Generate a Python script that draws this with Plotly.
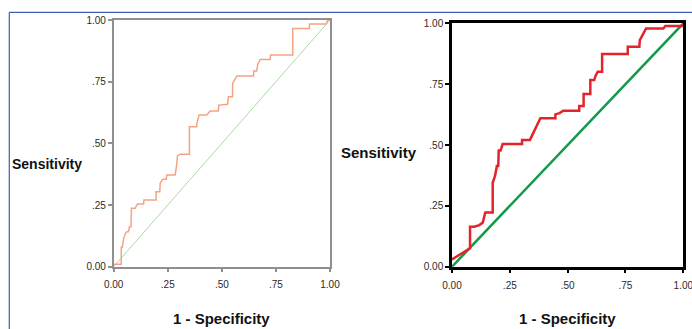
import plotly.graph_objects as go

# Left ROC curve (1 - specificity, sensitivity)
left_fpr = [0.0, 0.035, 0.035, 0.04, 0.045, 0.053, 0.061, 0.068, 0.073, 0.08, 0.082, 0.1, 0.104, 0.11,
            0.138, 0.14, 0.196, 0.196, 0.213, 0.215, 0.227, 0.243, 0.245, 0.284, 0.29, 0.295, 0.307,
            0.35, 0.35, 0.384, 0.384, 0.392, 0.395, 0.43, 0.446, 0.484, 0.486, 0.527, 0.53, 0.549,
            0.55, 0.569, 0.646, 0.648, 0.661, 0.666, 0.677, 0.723, 0.725, 0.828, 0.828, 0.905, 0.905,
            0.982, 0.99, 1.0]
left_tpr = [0.01, 0.01, 0.079, 0.079, 0.11, 0.133, 0.142, 0.142, 0.162, 0.162, 0.237, 0.237, 0.246, 0.254,
            0.254, 0.27, 0.27, 0.304, 0.304, 0.338, 0.354, 0.354, 0.372, 0.372, 0.405, 0.449, 0.456,
            0.456, 0.567, 0.567, 0.581, 0.6, 0.615, 0.615, 0.631, 0.631, 0.655, 0.658, 0.689, 0.689,
            0.743, 0.773, 0.773, 0.793, 0.793, 0.82, 0.84, 0.84, 0.858, 0.858, 0.966, 0.966, 0.984,
            0.984, 1.0, 1.0]

# Right ROC curve
right_fpr = [0.0, 0.078, 0.078, 0.096, 0.118, 0.133, 0.144, 0.176, 0.176, 0.186, 0.194, 0.2, 0.202,
             0.21, 0.219, 0.303, 0.303, 0.337, 0.382, 0.447, 0.447, 0.465, 0.481, 0.55, 0.55, 0.569,
             0.569, 0.598, 0.598, 0.615, 0.62, 0.63, 0.649, 0.649, 0.76, 0.76, 0.81, 0.812, 0.839,
             0.914, 0.922, 0.998, 1.0]
right_tpr = [0.03, 0.076, 0.164, 0.164, 0.171, 0.181, 0.223, 0.223, 0.345, 0.373, 0.414, 0.414, 0.477,
             0.477, 0.504, 0.504, 0.521, 0.521, 0.61, 0.61, 0.626, 0.631, 0.641, 0.641, 0.66, 0.66,
             0.71, 0.71, 0.767, 0.767, 0.783, 0.801, 0.801, 0.874, 0.874, 0.904, 0.904, 0.931, 0.979,
             0.979, 0.989, 0.989, 1.0]

ref_line = [0.0, 1.0]
tick_vals = [0.0, 0.25, 0.5, 0.75, 1.0]
tick_text = ["0.00", ".25", ".50", ".75", "1.00"]
x_title = "1 - Specificity"
y_title = "Sensitivity"

W, H = 692, 329

fig = go.Figure()
fig.add_trace(go.Scatter(x=ref_line, y=ref_line, mode="lines", xaxis="x", yaxis="y",
                         line=dict(color="#a9d9a4", width=1), showlegend=False))
fig.add_trace(go.Scatter(x=left_fpr, y=left_tpr, mode="lines", xaxis="x", yaxis="y",
                         line=dict(color="#f5a284", width=1.5), showlegend=False))
fig.add_trace(go.Scatter(x=ref_line, y=ref_line, mode="lines", xaxis="x2", yaxis="y2",
                         line=dict(color="#109a4a", width=2.5), showlegend=False))
fig.add_trace(go.Scatter(x=right_fpr, y=right_tpr, mode="lines", xaxis="x2", yaxis="y2",
                         line=dict(color="#e4232a", width=2.5), showlegend=False))

tick_font = dict(family="Liberation Sans, Arial, sans-serif", size=10, color="#2a2a2a")

def ax(domain, anchor, color, lw, standoff=None):
    d = dict(domain=domain, anchor=anchor, range=[0, 1], tickvals=tick_vals, ticktext=tick_text,
             ticks="outside", ticklen=4, tickcolor=color, tickwidth=lw if lw < 2 else 1.5,
             showline=True, linecolor=color, linewidth=lw, mirror=True, automargin=False,
             ticklabeloverflow="allow",
             showgrid=False, zeroline=False, tickfont=tick_font, fixedrange=True)
    if standoff is not None:
        d["ticklabelstandoff"] = standoff
    return d

lx0, lx1 = 113.7 / W, 330 / W
ly0, ly1 = 1 - 266.7 / H, 1 - 20 / H
rx0, rx1 = 452 / W, 683.3 / W
ry0, ry1 = 1 - 266.7 / H, 1 - 23.3 / H

fig.update_layout(
    width=W, height=H, autosize=False,
    margin=dict(l=0, r=0, t=0, b=0, pad=0, autoexpand=False),
    paper_bgcolor="white", plot_bgcolor="white",
    xaxis=ax([lx0, lx1], "y", "#8f8f8f", 1.5, 4),
    yaxis=ax([ly0, ly1], "x", "#8f8f8f", 1.5),
    xaxis2=ax([rx0, rx1], "y2", "#000000", 2.5, 4),
    yaxis2=ax([ry0, ry1], "x2", "#000000", 2.5),
)

title_font = dict(family="Liberation Sans, Arial, sans-serif", size=14, color="#111", weight="bold")
title_font_r = dict(family="Liberation Sans, Arial, sans-serif", size=15, color="#111", weight="bold")
fig.add_annotation(text=y_title, x=47 / W, y=1 - 164 / H, xref="paper", yref="paper",
                   showarrow=False, xanchor="center", yanchor="middle", font=title_font)
fig.add_annotation(text=y_title, x=379 / W, y=1 - 152 / H, xref="paper", yref="paper",
                   showarrow=False, xanchor="center", yanchor="middle", font=title_font_r)
fig.add_annotation(text=x_title, x=221.7 / W, y=1 - 318 / H, xref="paper", yref="paper",
                   showarrow=False, xanchor="center", yanchor="middle", font=title_font_r)
fig.add_annotation(text=x_title, x=567.5 / W, y=1 - 318 / H, xref="paper", yref="paper",
                   showarrow=False, xanchor="center", yanchor="middle", font=title_font_r)

# blue frame lines (top and left)
fig.add_shape(type="line", xref="paper", yref="paper", x0=9.3 / W, x1=1.0, y0=1 - 12.3 / H, y1=1 - 12.3 / H,
              line=dict(color="#3d5fb3", width=1.2))
fig.add_shape(type="line", xref="paper", yref="paper", x0=9.3 / W, x1=9.3 / W, y0=0.0, y1=1 - 12.3 / H,
              line=dict(color="#3d5fb3", width=1.2))

fig.write_html("out.html", config={"displayModeBar": False, "responsive": False},
               post_script="document.body.style.margin='0';document.body.style.overflow='hidden';")
